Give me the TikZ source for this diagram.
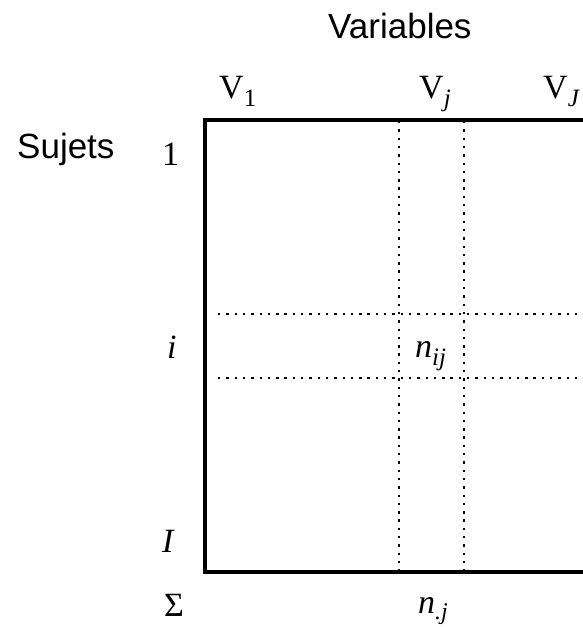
\documentclass[tikz,border=0pt]{standalone}
\usepackage{fontspec}
\setmainfont{Liberation Serif}
\newfontfamily\labelsans{Liberation Sans}
\newcommand{\subsc}[1]{\raisebox{-8pt}{\fontsize{25}{25}\selectfont #1}}
\newcommand{\subsclow}[1]{\raisebox{-6pt}{\fontsize{24}{24}\selectfont #1}}
\tikzset{
  frameline/.style={line width=3.3pt},
  dotline/.style={line width=2.4pt, dash pattern=on 2.4pt off 5.9pt},
  sanslab/.style={font=\labelsans\fontsize{35}{36}\selectfont, inner sep=0pt, anchor=base west},
  serlab/.style={font=\fontsize{34}{36}\selectfont, inner sep=0pt, anchor=base west},
}
\begin{document}
\begin{tikzpicture}[x=1pt,y=-1pt]
\useasboundingbox (0,0) rectangle (583,627);
\begin{scope}
\clip (0,0) rectangle (583,627);
% frame
\coordinate (tl) at (205,120);
\coordinate (tr) at (590,120);
\coordinate (bl) at (205,572);
\coordinate (br) at (590,572);
\draw[frameline] (tr) -- (tl) -- (bl) -- (br);
% dotted lines
\coordinate (v1t) at (399,121);
\coordinate (v1b) at (399,572);
\coordinate (v2t) at (464,121);
\coordinate (v2b) at (464,572);
\coordinate (h1l) at (218,314);
\coordinate (h1r) at (590,314);
\coordinate (h2l) at (218,378);
\coordinate (h2r) at (590,378);
\draw[dotline] (v1t) -- (v1b);
\draw[dotline] (v2t) -- (v2b);
\draw[dotline] (h1l) -- (h1r);
\draw[dotline] (h2l) -- (h2r);
\end{scope}
% labels
\node[sanslab] (var) at (328,38) {Variables};
\node[sanslab] (suj) at (17,158) {Sujets};
\node[serlab] (vone) at (219,98) {V\subsc{1}};
\node[serlab] (vj) at (419,98) {V\subsc{\itshape j}};
\node[serlab] (vJ) at (543,98) {V\subsc{\itshape J}};
\node[serlab] (rone) at (162,165) {1};
\node[serlab] (ri) at (167,358) {\itshape i};
\node[serlab] (rI) at (162,552) {\itshape I};
\node[serlab] (sig) at (164,616) {Σ};
\node[serlab] (nij) at (415,357) {\itshape n\subsc{\itshape ij}};
\node[serlab] (nj) at (418,613) {\itshape n\subsclow{.\itshape j}};
\end{tikzpicture}
\end{document}
